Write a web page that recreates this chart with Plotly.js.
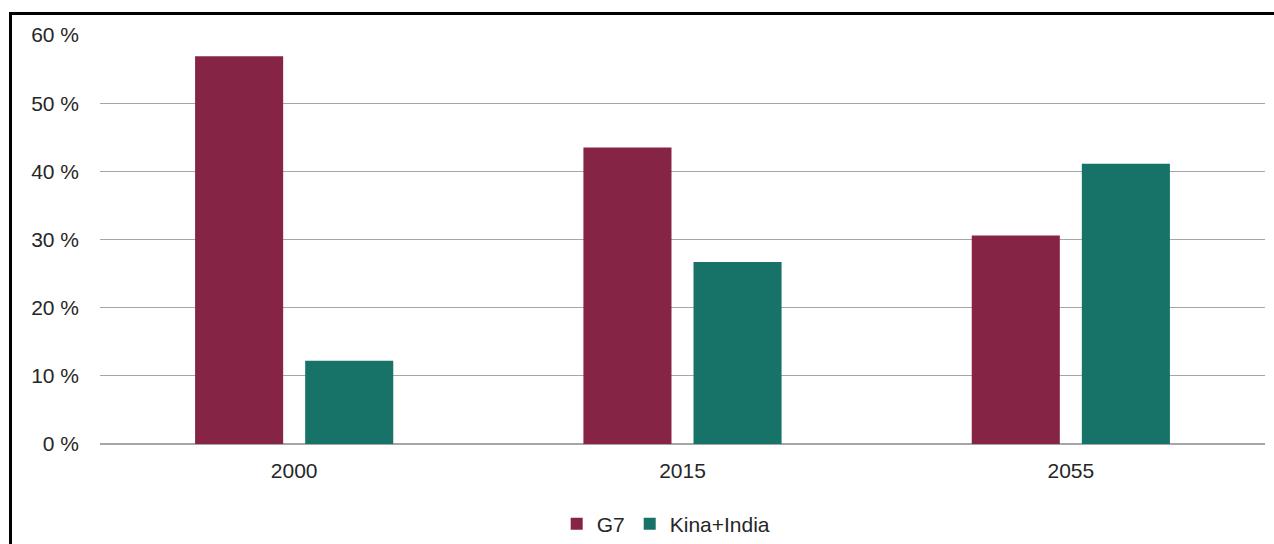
<!DOCTYPE html>
<html><head><meta charset="utf-8">
<script src="https://cdn.plot.ly/plotly-3.0.1.min.js"></script>
<style>
html,body{margin:0;padding:0;background:#fff;overflow:hidden;width:1274px;height:544px;}
#frame{position:absolute;left:9px;top:12px;width:1300px;height:600px;border-left:3px solid #000;border-top:3px solid #000;}
#chart{position:absolute;left:0;top:0;width:1262px;height:560px;}
</style></head>
<body>
<div id="frame"><div id="chart"></div></div>
<script>
const categories = ["2000", "2015", "2055"];
const g7 = [56.9, 43.5, 30.6];
const kinaIndia = [12.2, 26.7, 41.1];
const seriesNames = ["G7", "Kina+India"];
const yTicks = [0, 10, 20, 30, 40, 50, 60];

const traces = [
  {type: "bar", x: categories, y: g7, name: seriesNames[0], marker: {color: "#862446"}, hoverinfo: "none"},
  {type: "bar", x: categories, y: kinaIndia, name: seriesNames[1], marker: {color: "#177268"}, hoverinfo: "none"}
];
const layout = {
  width: 1262, height: 560,
  margin: {l: 88, r: 9, t: 20, b: 131},
  paper_bgcolor: "#fff", plot_bgcolor: "#fff",
  font: {family: "Liberation Sans, Arial, sans-serif", size: 21, color: "#262626"},
  barmode: "group", bargap: 0.433, bargroupgap: 0.2,
  xaxis: {type: "category", showgrid: false, showline: false, ticks: "", ticklabelstandoff: 12, automargin: false, tickfont: {size: 21, color: "#262626"}},
  yaxis: {range: [0, 60], tickvals: yTicks, ticktext: yTicks.map(v => v + " %"), showgrid: true, gridcolor: "#a6a6a6", gridwidth: 1.3, automargin: false,
          zeroline: true, zerolinecolor: "#a6a6a6", zerolinewidth: 1.5, ticks: "", ticklabelstandoff: 20, tickfont: {size: 21, color: "#262626"}},
  showlegend: true,
  legend: {orientation: "h", x: 0.486, xanchor: "center", y: -0.196, yanchor: "middle", font: {size: 21, color: "#262626"}, itemwidth: 30, traceorder: "normal"}
};
Plotly.newPlot("chart", traces, layout, {displayModeBar: false, staticPlot: true});
</script>
</body></html>
